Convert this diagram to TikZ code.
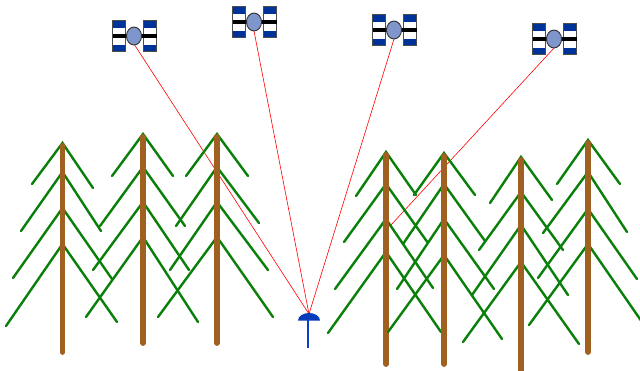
\documentclass[tikz,border=0pt]{standalone}
\usepackage{tikz}
\usetikzlibrary{shapes.geometric}

\definecolor{needle}{HTML}{0A7F0A}
\definecolor{bark}{HTML}{A0601F}
\definecolor{solar}{HTML}{003399}
\definecolor{hull}{HTML}{7F96CC}
\definecolor{mast}{HTML}{0A40C8}

% args: name, x, top, bottom, list of apex/left x/left y/right x/right y
\newcommand{\pine}[5]{
  \coordinate (#1_top) at (#2,#3+3);
  \coordinate (#1_foot) at (#2,#4);
  \foreach \ay/\lx/\ly/\rx/\ry in {#5} {
    \draw[branch] (\lx,\ly) -- (#2,\ay) -- (\rx,\ry);
  }
  \draw[trunk] (#1_top) -- (#1_foot);
}
% args: name, x, y
\newcommand{\satellite}[3]{
  \begin{scope}[shift={(#2,#3)}]
    \foreach \side in {-21.5,9.5} {
      \fill[white] (\side,-15.5) rectangle +(13,31);
      \fill[solar] (\side,-15.5) rectangle +(13,7);
      \fill[solar] (\side,8.5) rectangle +(13,7);
      \draw[panel] (\side,-15.5) rectangle +(13,31);
    }
    \draw[line width=3.5pt] (-21.5,0) -- (22.5,0);
    \node (#1) [body] at (0,0) {};
  \end{scope}
}

\begin{document}
\begin{tikzpicture}[x=1pt, y=-1pt]
    \tikzstyle{branch} = [draw=needle, line width=2.4pt, line cap=round, line join=miter]
    \tikzstyle{trunk} = [draw=bark, line width=5.8pt, line cap=round]
    \tikzstyle{panel} = [draw=black!70, line width=1pt]
    \tikzstyle{body} = [ellipse, draw=black!80, fill=hull, line width=0.9pt,
                        minimum width=15pt, minimum height=18pt, inner sep=0pt]
    \tikzstyle{link} = [draw=red, line width=0.6pt]
    \useasboundingbox (0,0) rectangle (640,370);

    \coordinate (dish_top) at (309,314);
    \coordinate (shade) at (391,225);
    \coordinate (sat1_end) at (134,44);
    \coordinate (sat2_end) at (254,31);
    \coordinate (sat3_end) at (394,39);
    \coordinate (sat4_end) at (554,48);

    % signal lines go under the trees
    \draw[link] (sat1_end) -- (dish_top);
    \draw[link] (sat2_end) -- (dish_top);
    \draw[link] (sat3_end) -- (dish_top);
    \draw[link] (sat4_end) -- (shade);

    \pine{pine1}{62.5}{143}{352}{143/32/184/93/188, 172/21/231/101/231, 208/13/278/112/279, 244/6/326/117/322}
    \pine{pine2}{143}{134}{343}{134/112/176/173/176, 167/100/226/185/226, 202/93/270/189/270, 237/86/317/198/322}
    \pine{pine3}{217}{134}{343}{134/186/176/248/176, 167/176/226/259/223, 202/170/270/268/270, 237/158/317/273/317}
    \pine{pine4}{386}{152}{364}{152/356/196/416/195, 184/344/242/428/243, 219/335/289/433/288, 252/328/333/441/332}
    \pine{pine5}{444}{153}{364}{153/414/195/475/195, 184/403/244/485/241, 219/397/289/494/289, 255/388/332/502/339}
    \pine{pine6}{521}{157}{374}{157/490/203/552/200, 192/479/250/563/250, 225/472/295/568/295, 262/463/342/579/344}
    \pine{pine7}{588}{140}{352}{140/557/184/620/184, 172/543/233/627/232, 209/538/278/637/279, 244/529/325/642/322}

    \satellite{sat1}{134}{36}
    \satellite{sat2}{254}{22}
    \satellite{sat3}{394}{30}
    \satellite{sat4}{554}{39}

    \coordinate (dish_foot) at (308,348);
    \draw[mast, line width=2.6pt] (308,320) -- (dish_foot);
    \fill[mast!70!solar] (298,320.5) arc[start angle=180, end angle=0, x radius=11, y radius=-7.5] -- cycle;
\end{tikzpicture}
\end{document}
